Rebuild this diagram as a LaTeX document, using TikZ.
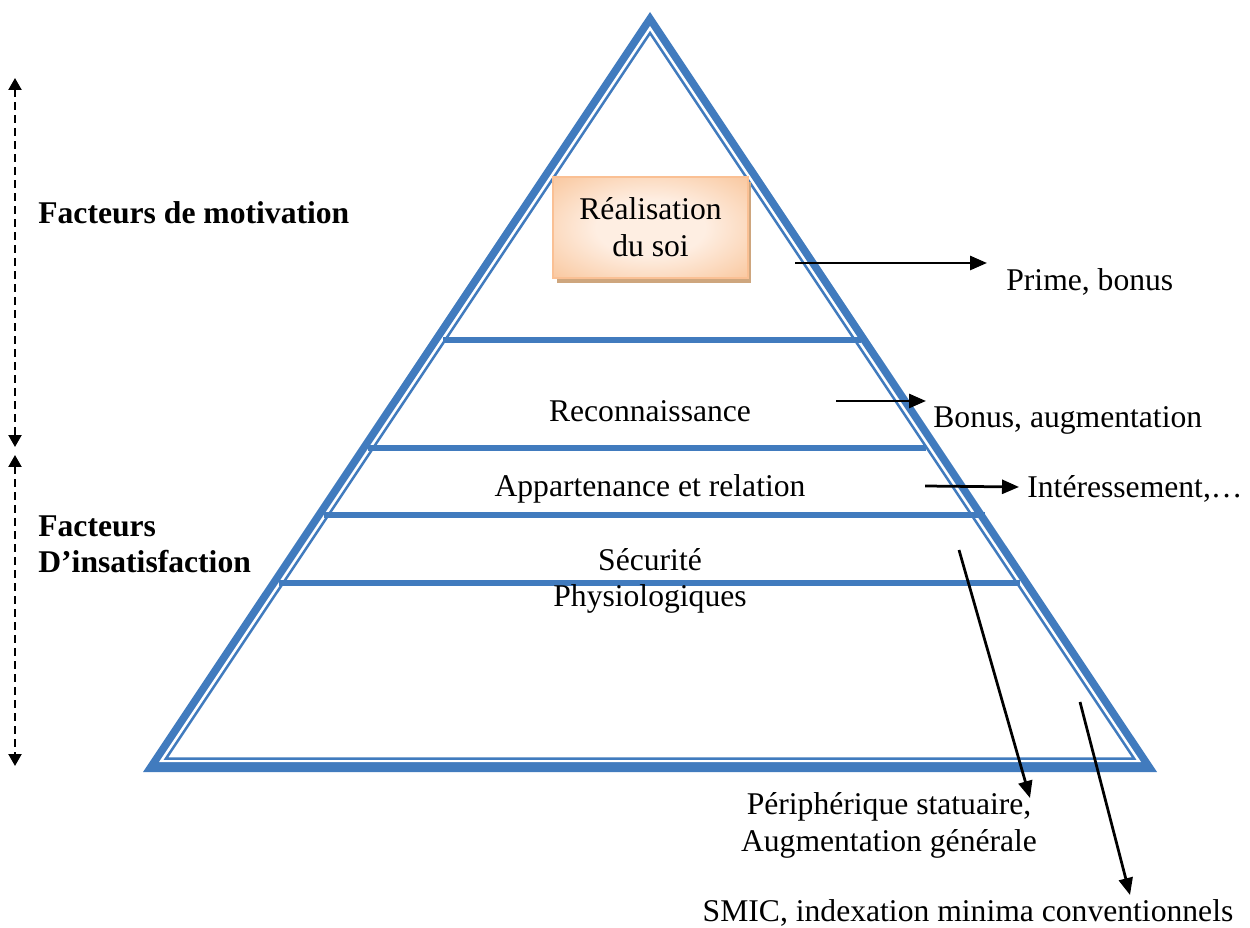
\documentclass[tikz,border=0pt]{standalone}
\usepackage{fontspec}
\setmainfont{Liberation Serif}
\usetikzlibrary{arrows.meta,shadows}

\definecolor{pyrblue}{RGB}{65,123,190}
\definecolor{boxedge}{RGB}{250,192,148}
\definecolor{boxdark}{RGB}{246,176,124}
\definecolor{boxmid}{RGB}{250,206,170}
\definecolor{boxlight}{RGB}{254,238,226}
\definecolor{boxshadow}{RGB}{206,166,126}

% soft glow: light centre, orange towards the corners
\pgfdeclareradialshading{boxglow}{\pgfpoint{0bp}{0bp}}{%
  color(0bp)=(boxlight); color(14bp)=(boxlight); color(32bp)=(boxmid);
  color(48bp)=(boxdark); color(72bp)=(boxdark)}

\begin{document}
\begin{tikzpicture}[x=0.02cm,y=-0.02cm,
  lbl/.style={font=\fontsize{18}{21}\selectfont, inner sep=0pt},
  sidelbl/.style={font=\fontsize{18}{21}\selectfont\bfseries, inner sep=0pt},
  band/.style={draw=pyrblue, line width=1.1mm},
  ptr/.style={line width=0.55mm, -{Triangle[length=3.4mm,width=2.8mm]}},
  spanarrow/.style={line width=0.45mm, dash pattern=on 1.6mm off 1mm,
    {Triangle[length=2.4mm,width=2.6mm]}-{Triangle[length=2.4mm,width=2.6mm]}}
]
\useasboundingbox (0,0) rectangle (1250,928);

% pyramid: thick outer frame and thin inner outline
\fill[pyrblue] (650,12) -- (143,772) -- (1157,772) -- cycle;
\fill[white] (650,26) -- (159,762) -- (1141,762) -- cycle;
\draw[pyrblue, line width=0.5mm, line join=miter] (650,33) -- (166,758.5) -- (1134,758.5) -- cycle;

% level separators
\coordinate (b1l) at (443,340); \coordinate (b1r) at (861,340);
\coordinate (b2l) at (368,448); \coordinate (b2r) at (926,448);
\coordinate (b3l) at (324,515); \coordinate (b3r) at (985,515);
\coordinate (b4l) at (279,583); \coordinate (b4r) at (1020,583);
\draw[band] (b1l) -- (b1r);
\draw[band] (b2l) -- (b2r);
\draw[band] (b3l) -- (b3r);
\draw[band] (b4l) -- (b4r);

% top level box
\node[draw=boxedge, line width=0.5mm, shading=boxglow,
      minimum width=3.9cm, minimum height=2.02cm, align=center,
      font=\fontsize{18}{21}\selectfont,
      drop shadow={shadow xshift=0.7mm, shadow yshift=-1mm, fill=boxshadow, opacity=1}]
      (soi) at (650.5,227.5) {Réalisation\\du soi};

% level labels
\node[lbl, anchor=base] (reco) at (650,421.5) {Reconnaissance};
\node[lbl, anchor=base] (appart) at (650,497) {Appartenance et relation};
\node[lbl, anchor=base] (secu) at (650,570) {Sécurité};
\node[lbl, anchor=base] (physio) at (650,606) {Physiologiques};

% factor groups on the left
\node[sidelbl, anchor=base west] (motiv) at (38,224) {Facteurs de motivation};
\node[sidelbl, anchor=north west, align=left] (insat) at (38,515) {Facteurs\\D’insatisfaction};
\coordinate (mtop) at (15,78);
\coordinate (mbot) at (15,447);
\coordinate (itop) at (15,455);
\coordinate (ibot) at (15,766);
\draw[spanarrow] (mtop) -- (mbot);
\draw[spanarrow] (itop) -- (ibot);

% remuneration labels
\node[lbl, anchor=base west] (prime) at (1006,291) {Prime, bonus};
\node[lbl, anchor=base west] (bonus) at (933,428) {Bonus, augmentation};
\node[lbl, anchor=base west] (interess) at (1027,498) {Intéressement,…};
\node[lbl, anchor=north, align=center] (periph) at (889,792) {Périphérique statuaire,\\Augmentation générale};
\node[lbl, anchor=base] (smic) at (968,921) {SMIC, indexation minima conventionnels};

% pointers
\coordinate (a1s) at (795,263); \coordinate (a1e) at (987,263);
\coordinate (a2s) at (836,401); \coordinate (a2e) at (926,401);
\coordinate (a3s) at (925,486); \coordinate (a3e) at (1019,487);
\coordinate (a4s) at (959,550); \coordinate (a4e) at (1030,798);
\coordinate (a5s) at (1080,702); \coordinate (a5e) at (1130,895);
\draw[ptr] (a1s) -- (a1e);
\draw[ptr] (a2s) -- (a2e);
\draw[ptr] (a3s) -- (a3e);
\draw[ptr] (a4s) -- (a4e);
\draw[ptr] (a5s) -- (a5e);
\end{tikzpicture}
\end{document}
